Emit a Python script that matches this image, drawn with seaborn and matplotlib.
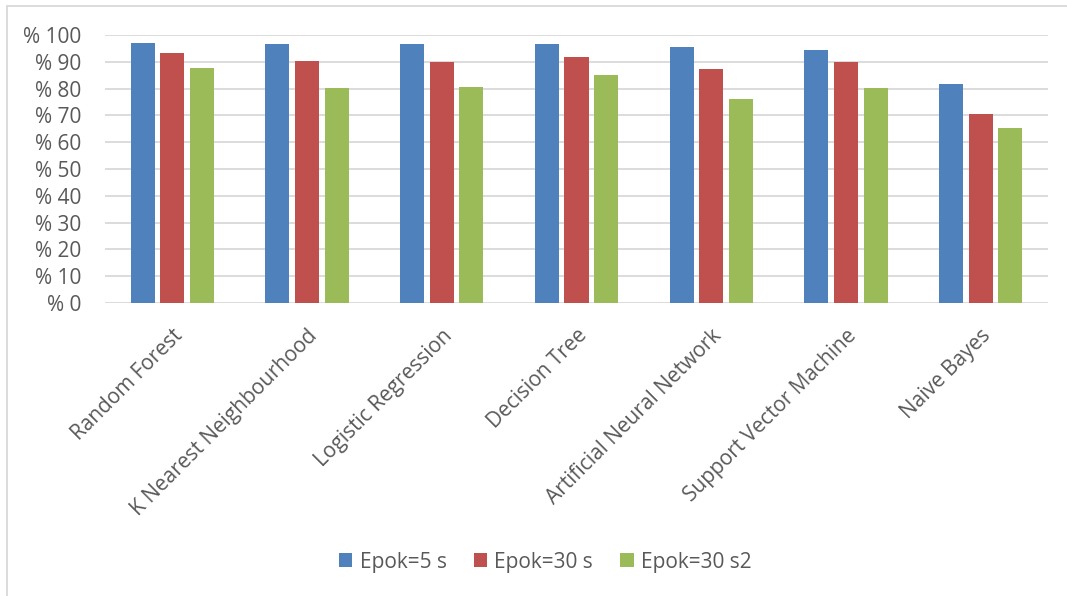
import matplotlib
matplotlib.use("Agg")
import matplotlib.pyplot as plt
import seaborn as sns
import pandas as pd
from matplotlib.lines import Line2D
from matplotlib.patches import Patch

categories = ["Random Forest", "K Nearest Neighbourhood", "Logistic Regression",
              "Decision Tree", "Artificial Neural Network", "Support Vector Machine",
              "Naive Bayes"]
series_names = ["Epok=5 s", "Epok=30 s", "Epok=30 s2"]
epok5 = [97.0, 96.8, 96.8, 96.8, 95.4, 94.4, 81.8]
epok30 = [93.2, 90.3, 90.1, 91.8, 87.4, 89.8, 70.4]
epok30_2 = [87.8, 80.3, 80.5, 85.2, 76.3, 80.2, 65.4]
yticks = list(range(0, 101, 10))
ytick_labels = [f"% {v}" for v in yticks]
colors = ["#4F81BD", "#C0504D", "#9BBB59"]

rows = []
for name, vals in zip(series_names, [epok5, epok30, epok30_2]):
    for c, v in zip(categories, vals):
        rows.append({"Model": c, "Series": name, "Value": v})
df = pd.DataFrame(rows)

sns.set_theme(style="white")
plt.rcParams["font.family"] = ["Open Sans", "DejaVu Sans"]
text_color = "#595959"
fs = 15

fig = plt.figure(figsize=(10.67, 5.96), dpi=100)
ax = fig.add_axes([105 / 1067, 1 - 303 / 596, (1048 - 105) / 1067, (303 - 35) / 596])

sns.barplot(data=df, x="Model", y="Value", hue="Series", order=categories,
            hue_order=series_names, palette=colors, width=0.66, gap=0.19,
            saturation=1, linewidth=0, ax=ax, legend=False)

ax.set_ylim(0, 100)
ax.set_xlim(-0.5, len(categories) - 0.5)
ax.set_yticks(yticks)
ax.set_yticklabels(ytick_labels, fontsize=fs, color=text_color)
ax.set_xticks(range(len(categories)))
ax.set_xticklabels(categories, rotation=45, ha="right", rotation_mode="anchor",
                   fontsize=fs, color=text_color)
ax.tick_params(axis="x", length=0, pad=16)
ax.tick_params(axis="y", length=0, pad=17)
ax.set_xlabel("")
ax.set_ylabel("")
ax.grid(axis="y", color="#D9D9D9", linewidth=1.3)
ax.set_axisbelow(True)
for s in ax.spines.values():
    s.set_visible(False)

handles = [Patch(facecolor=c, edgecolor="none") for c in colors]
fig.legend(handles, series_names, loc="center", bbox_to_anchor=(0.511, 0.057),
           ncol=3, frameon=False, fontsize=fs, handlelength=0.65, handleheight=0.65,
           columnspacing=1.3, handletextpad=0.35, labelcolor=text_color)

# figure border (top and left visible)
fig.add_artist(Line2D([7 / 1067, 1.0], [1 - 6 / 596, 1 - 6 / 596],
                      transform=fig.transFigure, color="#D9D9D9", linewidth=1.3))
fig.add_artist(Line2D([7 / 1067, 7 / 1067], [0.0, 1 - 6 / 596],
                      transform=fig.transFigure, color="#D9D9D9", linewidth=1.3))

fig.savefig("out.png", dpi=100, facecolor="white")
